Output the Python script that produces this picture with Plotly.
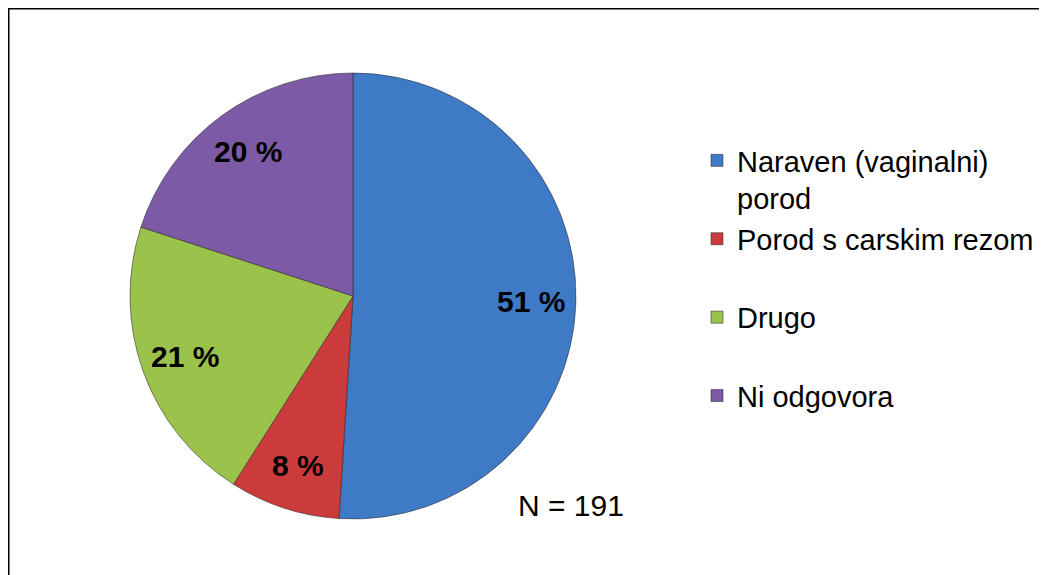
import math
import plotly.graph_objects as go

# data
labels = ["Naraven (vaginalni)<br>porod", "Porod s carskim rezom<br>&nbsp;",
          "Drugo<br>&nbsp;", "Ni odgovora<br>&nbsp;"]
values = [51, 8, 21, 20]
colors = ["#3E7AC6", "#CC3B3B", "#9BC24A", "#7D5AA6"]
n_total = 191

W, H = 1047, 575
# the page puts the figure 8px in from the top-left corner
cx, cy, r = 345, 288, 223
label_r = 0.8
FONT = "Liberation Sans, Arial"

fig = go.Figure()
fig.add_trace(go.Pie(
    labels=labels, values=values, sort=False, direction="clockwise",
    marker=dict(colors=colors, line=dict(color="rgba(40,40,40,0.55)", width=1)),
    textinfo="none",
    domain=dict(x=[(cx - r) / W, (cx + r) / W], y=[1 - (cy + r) / H, 1 - (cy - r) / H]),
    hoverinfo="label+value",
))

# percentage labels on the slice bisectors, like the spreadsheet chart
total = sum(values)
acc = 0
for v in values:
    mid = (acc + v / 2) / total * 2 * math.pi
    acc += v
    px_ = cx + label_r * r * math.sin(mid)
    py_ = cy - label_r * r * math.cos(mid)
    fig.add_annotation(text=f"<b>{v} %</b>", x=px_ / W, y=1 - py_ / H,
                       xref="paper", yref="paper", showarrow=False,
                       xanchor="center", yanchor="middle",
                       font=dict(family=FONT, size=30, color="black"))

fig.add_annotation(text=f"N = {n_total}", x=563 / W, y=1 - 497 / H,
                   xref="paper", yref="paper", showarrow=False,
                   xanchor="center", yanchor="middle",
                   font=dict(family=FONT, size=30, color="black"))

# frame (only top and left edges visible in the picture)
fig.add_shape(type="rect", xref="paper", yref="paper",
              x0=0, y0=-0.2, x1=1.2, y1=1,
              line=dict(color="black", width=3))

fig.update_layout(
    width=W, height=H,
    margin=dict(l=0, r=0, t=0, b=0),
    paper_bgcolor="white", plot_bgcolor="white",
    font=dict(family=FONT, color="black"),
    legend=dict(x=689 / W, y=1 - 127 / H, xanchor="left", yanchor="top",
                valign="top", font=dict(size=29), bgcolor="rgba(0,0,0,0)"),
)

fig.write_html("out.html")
